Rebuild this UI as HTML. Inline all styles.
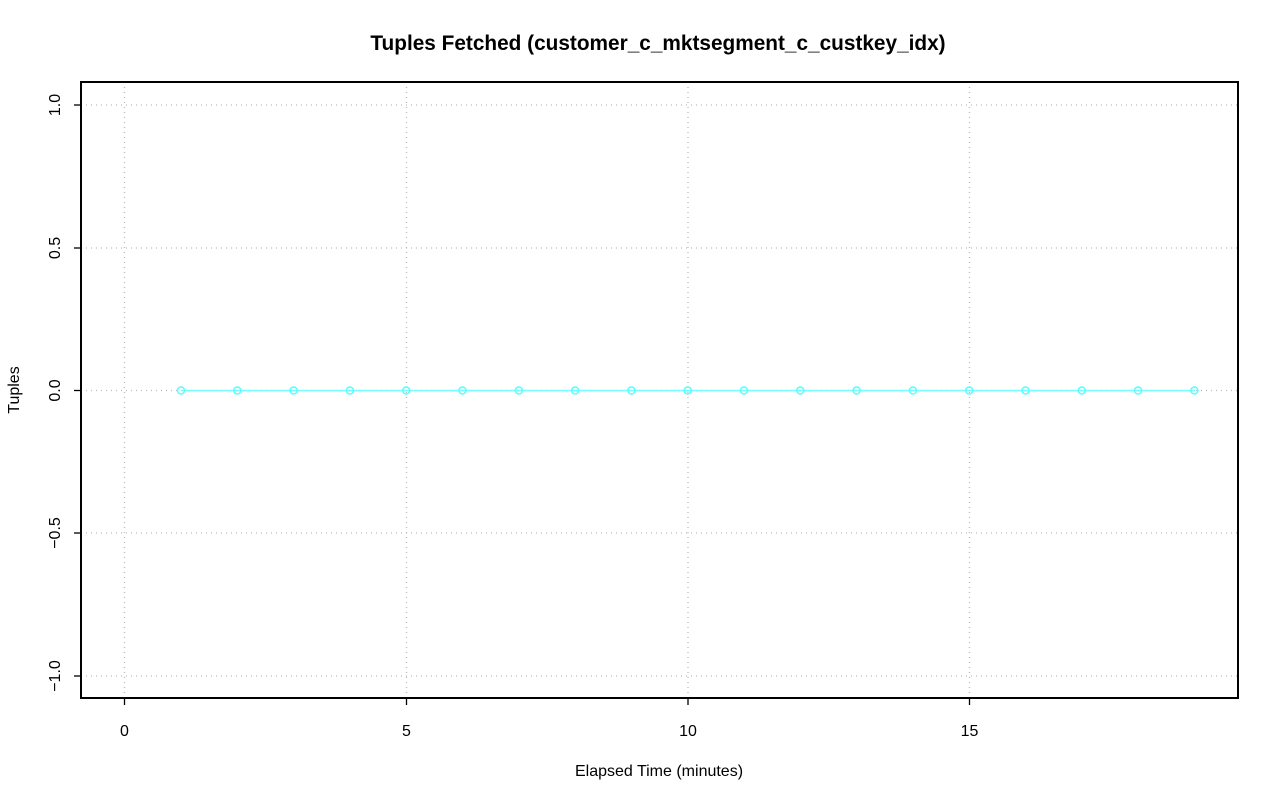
<!DOCTYPE html>
<html><head><style>body{margin:0;background:#fff}svg{display:block}</style></head><body>
<svg width="1280" height="801" xmlns="http://www.w3.org/2000/svg" font-family="Liberation Sans, sans-serif">
<rect width="1280" height="801" fill="#fff"/>
<text x="658" y="50" text-anchor="middle" font-size="20.8" font-weight="bold">Tuples Fetched (customer_c_mktsegment_c_custkey_idx)</text>
<g stroke="#bbb" stroke-dasharray="1,4" stroke-width="1.3">
<line x1="124.5" y1="82" x2="124.5" y2="698"/><line x1="406.5" y1="82" x2="406.5" y2="698"/><line x1="688" y1="82" x2="688" y2="698"/><line x1="969.5" y1="82" x2="969.5" y2="698"/>
<line x1="81" y1="105" x2="1238" y2="105"/><line x1="81" y1="248" x2="1238" y2="248"/><line x1="81" y1="390.5" x2="1238" y2="390.5"/><line x1="81" y1="533" x2="1238" y2="533"/><line x1="81" y1="676" x2="1238" y2="676"/>
</g>
<line x1="181" y1="390.5" x2="1195" y2="390.5" stroke="#7ff" stroke-width="1.5"/>
<rect x="81" y="82" width="1157" height="616" fill="none" stroke="#000" stroke-width="2"/>
<g stroke="#000" stroke-width="1.3">
<line x1="124.5" y1="698" x2="124.5" y2="705"/><line x1="406.5" y1="698" x2="406.5" y2="705"/><line x1="688" y1="698" x2="688" y2="705"/><line x1="969.5" y1="698" x2="969.5" y2="705"/>
<line x1="74" y1="105" x2="81" y2="105"/><line x1="74" y1="248" x2="81" y2="248"/><line x1="74" y1="390.5" x2="81" y2="390.5"/><line x1="74" y1="533" x2="81" y2="533"/><line x1="74" y1="676" x2="81" y2="676"/>
</g>
<g font-size="16" text-anchor="middle">
<text x="124.5" y="736">0</text><text x="406.5" y="736">5</text><text x="688" y="736">10</text><text x="969.5" y="736">15</text>
<text transform="translate(60,105) rotate(-90)">1.0</text>
<text transform="translate(60,248) rotate(-90)">0.5</text>
<text transform="translate(60,390.5) rotate(-90)">0.0</text>
<text transform="translate(60,533) rotate(-90)">−0.5</text>
<text transform="translate(60,676) rotate(-90)">−1.0</text>
<text x="659" y="776">Elapsed Time (minutes)</text>
<text transform="translate(19,390) rotate(-90)">Tuples</text>
</g>
<g fill="none" stroke="#5ff" stroke-width="1.5">
<circle cx="181" cy="390.5" r="3.5"/><circle cx="237.3" cy="390.5" r="3.5"/><circle cx="293.6" cy="390.5" r="3.5"/><circle cx="349.9" cy="390.5" r="3.5"/><circle cx="406.2" cy="390.5" r="3.5"/><circle cx="462.5" cy="390.5" r="3.5"/><circle cx="518.8" cy="390.5" r="3.5"/><circle cx="575.1" cy="390.5" r="3.5"/><circle cx="631.4" cy="390.5" r="3.5"/><circle cx="687.7" cy="390.5" r="3.5"/><circle cx="744" cy="390.5" r="3.5"/><circle cx="800.3" cy="390.5" r="3.5"/><circle cx="856.6" cy="390.5" r="3.5"/><circle cx="912.9" cy="390.5" r="3.5"/><circle cx="969.2" cy="390.5" r="3.5"/><circle cx="1025.5" cy="390.5" r="3.5"/><circle cx="1081.8" cy="390.5" r="3.5"/><circle cx="1138.1" cy="390.5" r="3.5"/><circle cx="1194.4" cy="390.5" r="3.5"/>
</g>
</svg>
</body></html>
